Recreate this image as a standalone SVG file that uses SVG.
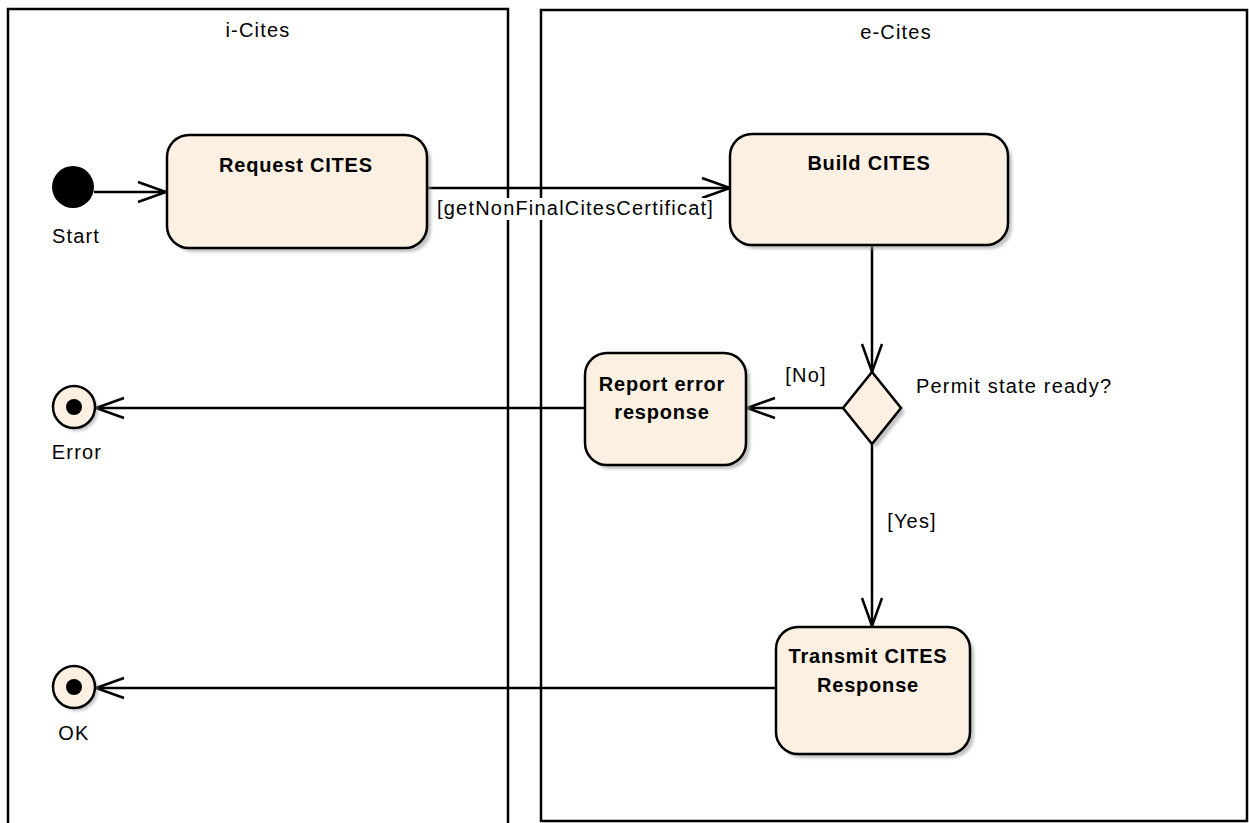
<svg xmlns="http://www.w3.org/2000/svg" width="1249" height="823" viewBox="0 0 1249 823">
<defs>
<style>
.lane{fill:none;stroke:#000;stroke-width:2.5}
.act{fill:#FBF0E2;stroke:#000;stroke-width:2.5}
.shadow{fill:#999;opacity:0.6;filter:url(#blur)}
.t{font-family:"Liberation Sans",Arial,sans-serif;font-size:20px;letter-spacing:1.2px;fill:#000}
.b{font-family:"Liberation Sans",Arial,sans-serif;font-size:20px;letter-spacing:0.8px;font-weight:bold;fill:#000}
.c{text-anchor:middle}
.edge{fill:none;stroke:#000;stroke-width:2.5}
</style>
<filter id="blur" x="-10%" y="-10%" width="130%" height="130%"><feGaussianBlur stdDeviation="1.5"/></filter>
<marker id="arr" markerUnits="userSpaceOnUse" markerWidth="34" markerHeight="26" refX="30" refY="13" orient="auto">
<path d="M2,3 L30,13 L2,23" fill="none" stroke="#000" stroke-width="2.5"/>
</marker>
</defs>
<g id="lane-i-cites">
<rect class="lane" x="8" y="9" width="500" height="830"/>
<text class="t c" x="258" y="37">i-Cites</text>
</g>
<g id="lane-e-cites">
<rect class="lane" x="541" y="10" width="706" height="811"/>
<text class="t c" x="896" y="39">e-Cites</text>
</g>
<g id="connectors">
<path class="edge" d="M94,192 H166" marker-end="url(#arr)"/>
<path class="edge" d="M427,188 H730" marker-end="url(#arr)"/>
<path class="edge" d="M872,246 V372" marker-end="url(#arr)"/>
<path class="edge" d="M843,408 H747" marker-end="url(#arr)"/>
<path class="edge" d="M585,408 H96" marker-end="url(#arr)"/>
<path class="edge" d="M872,444 V626" marker-end="url(#arr)"/>
<path class="edge" d="M776,688 H96" marker-end="url(#arr)"/>
<rect x="433" y="198" width="300" height="22" fill="#fff"/>
<text class="t" x="437" y="215">[getNonFinalCitesCertificat]</text>
<text class="t c" x="806" y="382">[No]</text>
<text class="t c" x="912" y="528">[Yes]</text>
</g>
<g id="start">
<circle cx="73" cy="187" r="21" fill="#000"/>
<text class="t c" x="76" y="243">Start</text>
</g>
<g id="request-cites">
<rect class="shadow" x="171" y="139" width="260" height="113" rx="22"/>
<rect class="act" x="167" y="135" width="260" height="113" rx="22"/>
<text class="b c" x="296" y="172">Request CITES</text>
</g>
<g id="build-cites">
<rect class="shadow" x="734" y="138" width="278" height="111" rx="22"/>
<rect class="act" x="730" y="134" width="278" height="111" rx="22"/>
<text class="b c" x="869" y="170">Build CITES</text>
</g>
<g id="decision">
<path class="shadow" d="M876,376 L905,412 L876,448 L847,412 Z"/>
<path class="act" d="M872,372 L901,408 L872,444 L843,408 Z"/>
<text class="t" x="916" y="393">Permit state ready?</text>
</g>
<g id="report-error">
<rect class="shadow" x="589" y="357" width="161" height="112" rx="22"/>
<rect class="act" x="585" y="353" width="161" height="112" rx="22"/>
<text class="b c" x="662" y="391">Report error</text>
<text class="b c" x="662" y="419">response</text>
</g>
<g id="transmit-cites">
<rect class="shadow" x="780" y="631" width="194" height="127" rx="22"/>
<rect class="act" x="776" y="627" width="194" height="127" rx="22"/>
<text class="b c" x="868" y="663">Transmit CITES</text>
<text class="b c" x="868" y="692">Response</text>
</g>
<g id="error">
<circle class="shadow" cx="77" cy="410" r="21"/>
<circle class="act" cx="74" cy="407" r="21"/>
<circle cx="74" cy="407" r="8" fill="#000"/>
<text class="t c" x="77" y="459">Error</text>
</g>
<g id="ok">
<circle class="shadow" cx="77" cy="690" r="21"/>
<circle class="act" cx="74" cy="687" r="21"/>
<circle cx="74" cy="687" r="8" fill="#000"/>
<text class="t c" x="74" y="740">OK</text>
</g>
</svg>
